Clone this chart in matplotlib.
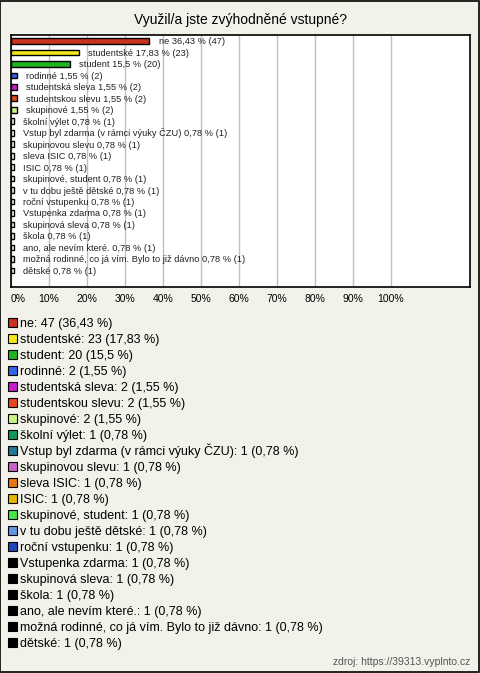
import numpy as np
import matplotlib
matplotlib.use('Agg')
import matplotlib.pyplot as plt
from matplotlib.patches import Rectangle

plt.rcParams['font.family'] = ['Liberation Sans', 'DejaVu Sans']

# answers, counts and percentages
labels = ['ne', 'studentské', 'student', 'rodinné', 'studentská sleva',
          'studentskou slevu', 'skupinové', 'školní výlet',
          'Vstup byl zdarma (v rámci výuky ČZU)', 'skupinovou slevu',
          'sleva ISIC', 'ISIC', 'skupinové, student', 'v tu dobu ještě dětské',
          'roční vstupenku', 'Vstupenka zdarma', 'skupinová sleva', 'škola',
          'ano, ale nevím které.', 'možná rodinné, co já vím. Bylo to již dávno',
          'dětské']
counts = [47, 23, 20, 2, 2, 2, 2, 1, 1, 1, 1, 1, 1, 1, 1, 1, 1, 1, 1, 1, 1]
pcts = ['36,43', '17,83', '15,5', '1,55', '1,55', '1,55', '1,55', '0,78', '0,78',
        '0,78', '0,78', '0,78', '0,78', '0,78', '0,78', '0,78', '0,78', '0,78',
        '0,78', '0,78', '0,78']
pct_vals = [36.43, 17.83, 15.5, 1.55, 1.55, 1.55, 1.55] + [0.78] * 14
colors = ['#c8321e', '#f5e61e', '#1eb41e', '#3264e6', '#c81ec8', '#e6461e',
          '#c8f582', '#14965a', '#1e7896', '#c864c8', '#e67814', '#e6b400',
          '#46e646', '#6496e6', '#1e46b4'] + ['#000000'] * 6

W, H = 480, 673
bg = '#f3f2ea'
fig = plt.figure(figsize=(W / 100, H / 100), dpi=100, facecolor=bg)

# outer border
fig.patches.append(Rectangle((0.001, 0.001), 0.997, 0.997, transform=fig.transFigure,
                             fill=False, edgecolor='black', linewidth=1.2))

fig.text(0.5, 1 - 20 / H, 'Využil/a jste zvýhodněné vstupné?', ha='center', va='center',
         fontsize=10)

ax = fig.add_axes([11 / W, 1 - 287 / H, 459 / W, 252 / H])
ax.set_facecolor('white')
y = np.arange(len(labels))
# small bars get white face like in the reference
face = [c if v > 1 else 'white' for c, v in zip(colors, pct_vals)]
ax.barh(y, pct_vals, height=0.5, color=face, edgecolor='black', linewidth=1.0, zorder=3)
for i in range(len(labels)):
    ax.text(pct_vals[i] + 2.4, y[i] + 0.3, f'{labels[i]} {pcts[i]} % ({counts[i]})',
            va='baseline', ha='left', fontsize=6.7, color='#222222', zorder=4)

ax.set_xlim(0, 120.8)
ax.set_ylim(21.45, -0.52)
ax.set_xticks(np.arange(0, 101, 10))
ax.set_xticklabels([f'{t}%' for t in range(0, 101, 10)], fontsize=7.5)
ax.get_xticklabels()[0].set_horizontalalignment('left')
ax.set_yticks([])
ax.tick_params(axis='x', length=0, pad=5)
ax.grid(axis='x', color='#c0c0c0', linewidth=1, zorder=0)
for s in ax.spines.values():
    s.set_linewidth(1.2)

# legend below the chart, one row every 16 px
for i in range(len(labels)):
    yc = 322.5 + 16 * i
    fig.patches.append(Rectangle((8 / W, 1 - (yc + 4.5) / H), 9 / W, 9 / H,
                                 transform=fig.transFigure, facecolor=colors[i],
                                 edgecolor='black', linewidth=0.8))
    fig.text(20 / W, 1 - (yc + 4.5) / H, f'{labels[i]}: {counts[i]} ({pcts[i]} %)',
             ha='left', va='baseline', fontsize=9)

fig.text(470 / W, 1 - 662 / H, 'zdroj: https://39313.vyplnto.cz', ha='right', va='center',
         fontsize=7.5, color='#555555')

fig.savefig('out.png', dpi=100, facecolor=bg)
